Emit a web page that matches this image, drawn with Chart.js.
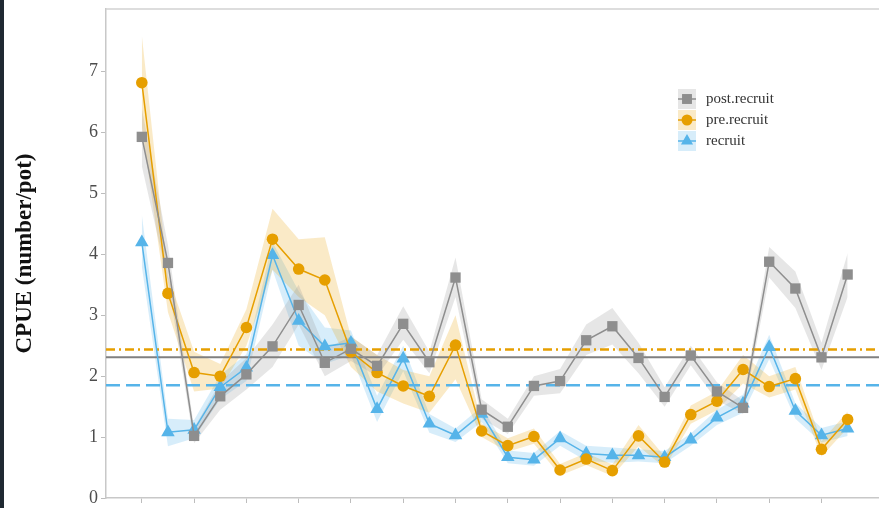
<!DOCTYPE html>
<html>
<head>
<meta charset="utf-8">
<script src="https://cdn.jsdelivr.net/npm/chart.js@4.4.1/dist/chart.umd.min.js"></script>
<style>
  html, body { margin: 0; padding: 0; background: #ffffff; overflow: hidden; }
  #strip { position: absolute; left: 0; top: 0; width: 4px; height: 508px; background: #1f2932; }
  #c { position: absolute; left: 4px; top: 0; }
</style>
</head>
<body>
<div id="strip"></div>
<canvas id="c" width="875" height="508"></canvas>
<script>
// ---- data ----
const categories = [1,2,3,4,5,6,7,8,9,10,11,12,13,14,15,16,17,18,19,20,21,22,23,24,25,26,27,28];
const xTickValues = [0,2,4,6,8,10,12,14,16,18,20,22,24,26];
const yTickValues = [0,1,2,3,4,5,6,7];

const postRecruit = [5.93,3.86,1.02,1.67,2.03,2.49,3.17,2.22,2.45,2.17,2.86,2.23,3.62,1.45,1.17,1.84,1.92,2.59,2.82,2.30,1.66,2.34,1.75,1.48,3.88,3.44,2.31,3.67];
const postLow     = [5.45,3.55,0.90,1.45,1.78,2.15,2.85,2.00,2.25,2.00,2.60,2.05,3.30,1.30,1.05,1.68,1.72,2.35,2.52,2.05,1.50,2.18,1.60,1.38,3.62,3.12,2.10,3.30];
const postHigh    = [6.40,4.15,1.15,1.90,2.30,2.85,3.50,2.45,2.65,2.35,3.15,2.40,3.95,1.62,1.30,2.00,2.12,2.85,3.12,2.55,1.82,2.50,1.90,1.60,4.12,3.72,2.55,4.02];

const preRecruit  = [6.82,3.36,2.06,2.00,2.80,4.25,3.76,3.58,2.40,2.06,1.84,1.67,2.51,1.10,0.86,1.01,0.46,0.64,0.45,1.02,0.59,1.37,1.59,2.11,1.83,1.96,0.80,1.29];
const preLow      = [6.10,3.05,1.75,1.80,2.50,3.75,3.30,3.00,2.15,1.75,1.55,1.40,1.95,1.00,0.76,0.89,0.37,0.54,0.36,0.85,0.50,1.22,1.44,1.88,1.65,1.78,0.68,1.15];
const preHigh     = [7.60,3.65,2.40,2.20,3.10,4.75,4.25,4.28,2.65,2.35,2.10,2.00,3.00,1.22,0.98,1.14,0.56,0.74,0.55,1.20,0.68,1.52,1.75,2.35,2.00,2.15,0.93,1.42];

const recruit     = [4.20,1.08,1.12,1.82,2.14,3.99,2.91,2.49,2.55,1.46,2.29,1.22,1.03,1.38,0.67,0.63,0.98,0.73,0.70,0.70,0.67,0.96,1.32,1.55,2.48,1.43,1.03,1.14];
const recruitLow  = [3.80,0.85,0.98,1.62,1.92,3.75,2.50,2.20,2.35,1.25,2.08,1.07,0.92,1.25,0.57,0.53,0.86,0.61,0.58,0.60,0.57,0.86,1.20,1.40,2.28,1.30,0.91,1.02];
const recruitHigh = [4.65,1.30,1.28,2.02,2.36,4.20,3.40,2.80,2.75,1.68,2.50,1.38,1.14,1.50,0.78,0.74,1.10,0.86,0.83,0.80,0.77,1.06,1.45,1.70,2.68,1.56,1.15,1.26];

const meanPost = 2.31;
const meanPre = 2.44;
const meanRecruit = 1.85;

const seriesNames = ['post.recruit', 'pre.recruit', 'recruit'];
const yTitle = 'CPUE (number/pot)';

// ---- styles ----
const GREY = '#8e8e8e', ORANGE = '#E69F00', BLUE = '#56B4E9';
const GREY_F = 'rgba(150,150,150,0.24)', ORANGE_F = 'rgba(230,159,0,0.22)', BLUE_F = 'rgba(86,180,233,0.24)';
const X_MIN = -1.37, X_MAX = 28.2;

const toPts = arr => arr.map((v, i) => ({ x: i, y: v }));
const hline = v => [{ x: X_MIN, y: v }, { x: X_MAX, y: v }];

function band(low, high, fillColor, ord) {
  return [
    { data: toPts(low), borderWidth: 0, pointRadius: 0, fill: false, order: ord, borderColor: 'rgba(0,0,0,0)' },
    { data: toPts(high), borderWidth: 0, pointRadius: 0, fill: '-1', backgroundColor: fillColor, order: ord, borderColor: 'rgba(0,0,0,0)' }
  ];
}
function series(label, vals, color, style, radius) {
  return { label, data: toPts(vals), borderColor: color, backgroundColor: color, borderWidth: 1.5,
    pointStyle: style, pointRadius: radius, pointBorderWidth: 0, pointBackgroundColor: color, fill: false, order: 0 };
}
function meanLine(v, color, dash, width) {
  return { data: hline(v), borderColor: color, borderWidth: width, borderDash: dash, pointRadius: 0, fill: false, order: 1 };
}

const datasets = [
  ...band(postLow, postHigh, GREY_F, 3),
  ...band(preLow, preHigh, ORANGE_F, 3),
  ...band(recruitLow, recruitHigh, BLUE_F, 3),
  meanLine(meanPost, '#808080', [], 2),
  meanLine(meanPre, ORANGE, [9, 4, 2, 4], 2.5),
  meanLine(meanRecruit, BLUE, [14, 6], 2.5),
  series(seriesNames[0], postRecruit, GREY, 'rect', 7.3),
  series(seriesNames[1], preRecruit, ORANGE, 'circle', 5.8),
  series(seriesNames[2], recruit, BLUE, 'triangle', 7.8)
];

const framePlugin = {
  id: 'frame',
  afterDraw(chart) {
    const { ctx, chartArea: a } = chart;
    ctx.save();
    ctx.strokeStyle = '#d2d2d2';
    ctx.lineWidth = 1.5;
    ctx.beginPath();
    ctx.moveTo(a.left, a.top);
    ctx.lineTo(a.right, a.top);
    ctx.stroke();
    ctx.restore();
  }
};

const legendPlugin = {
  id: 'customLegend',
  afterDraw(chart) {
    const { ctx } = chart;
    const items = [
      { label: seriesNames[0], color: GREY, fill: GREY_F, style: 'rect', r: 7 },
      { label: seriesNames[1], color: ORANGE, fill: ORANGE_F, style: 'circle', r: 5.5 },
      { label: seriesNames[2], color: BLUE, fill: BLUE_F, style: 'triangle', r: 7 }
    ];
    const kx = 683, y0 = 99, dy = 21;
    ctx.save();
    items.forEach((it, i) => {
      const y = y0 + i * dy;
      ctx.fillStyle = it.fill;
      ctx.fillRect(kx - 9, y - 10, 18, 20);
      ctx.strokeStyle = it.color;
      ctx.lineWidth = 1.5;
      ctx.beginPath();
      ctx.moveTo(kx - 9, y);
      ctx.lineTo(kx + 9, y);
      ctx.stroke();
      ctx.fillStyle = it.color;
      Chart.helpers.drawPoint(ctx, { pointStyle: it.style, radius: it.r, rotation: 0, borderWidth: 0 }, kx, y);
      ctx.fillStyle = '#333333';
      ctx.font = '15px "Liberation Serif", "Times New Roman", serif';
      ctx.textBaseline = 'middle';
      ctx.textAlign = 'left';
      ctx.fillText(it.label, kx + 19, y);
    });
    ctx.restore();
  }
};

new Chart(document.getElementById('c'), {
  type: 'line',
  data: { datasets },
  plugins: [framePlugin, legendPlugin],
  options: {
    responsive: false,
    animation: false,
    layout: { autoPadding: false, padding: { top: 9, right: 0, left: 0, bottom: 0 } },
    plugins: { legend: { display: false }, tooltip: { enabled: false } },
    elements: { line: { tension: 0 } },
    scales: {
      x: {
        type: 'linear',
        min: X_MIN, max: X_MAX,
        afterBuildTicks: s => { s.ticks = xTickValues.map(v => ({ value: v })); },
        afterFit: s => { s.height = 10; s.paddingLeft = 0; s.paddingRight = 0; },
        ticks: { display: false },
        grid: { drawOnChartArea: false, drawTicks: true, tickLength: 5, color: '#bdbdbd', lineWidth: 1 },
        border: { display: true, color: '#c8c8c8', width: 1.5 }
      },
      y: {
        type: 'linear',
        min: 0, max: 8.03,
        afterBuildTicks: s => { s.ticks = yTickValues.map(v => ({ value: v })); },
        afterFit: s => { s.width = 102; s.paddingTop = 0; s.paddingBottom = 0; },
        ticks: { color: '#4d4d4d', padding: 3, font: { family: '"Liberation Serif", "Times New Roman", serif', size: 18 } },
        grid: { drawOnChartArea: false, drawTicks: true, tickLength: 5, color: '#bdbdbd', lineWidth: 1 },
        border: { display: true, color: '#c8c8c8', width: 1.5 },
        title: { display: true, text: yTitle, color: '#111111', padding: { top: 7, bottom: 0 },
          font: { family: '"Liberation Serif", "Times New Roman", serif', size: 23, weight: 'bold' } }
      }
    }
  }
});
</script>
</body>
</html>
